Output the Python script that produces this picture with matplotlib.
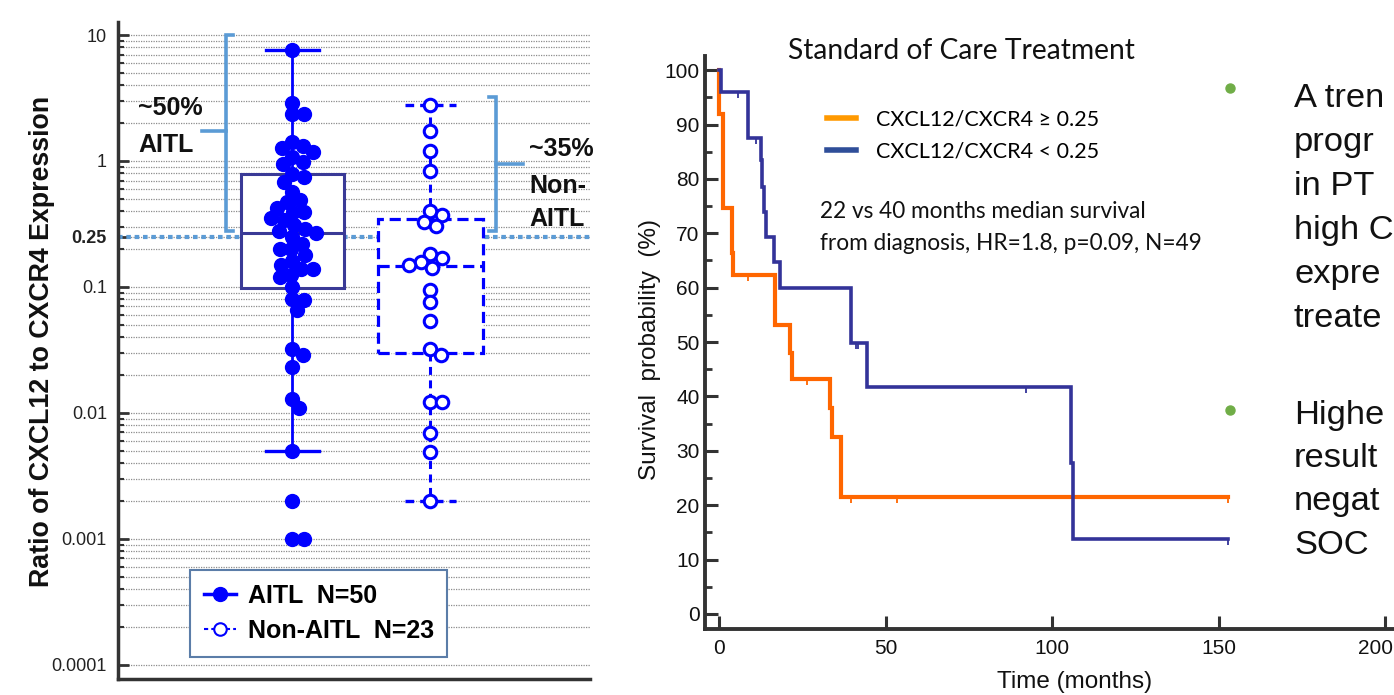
import numpy as np
import matplotlib
matplotlib.use("Agg")
import matplotlib.pyplot as plt
from matplotlib.lines import Line2D
from matplotlib.path import Path
from matplotlib.ticker import FixedLocator, NullFormatter

# ------------------------------------------------------------------ data
# Left panel: CXCL12/CXCR4 ratio per patient
aitl_values = [7.6, 2.9, 2.35, 2.35, 1.42, 1.32, 1.27, 1.18, 1.08, 0.98,
               0.95, 0.79, 0.75, 0.68, 0.57, 0.49, 0.47, 0.42, 0.39, 0.39,
               0.35, 0.34, 0.31, 0.29, 0.28, 0.27, 0.25, 0.22, 0.20, 0.20,
               0.18, 0.16, 0.15, 0.14, 0.14, 0.125, 0.12, 0.10, 0.080, 0.079,
               0.066, 0.032, 0.029, 0.023, 0.013, 0.011, 0.005, 0.002, 0.001, 0.001]
nonaitl_values = [2.78, 1.73, 1.2, 0.83, 0.40, 0.37, 0.33, 0.305, 0.183, 0.17,
                  0.158, 0.15, 0.142, 0.095, 0.076, 0.054, 0.032, 0.029, 0.0122,
                  0.0122, 0.0069, 0.0049, 0.002]
aitl_box = dict(whislo=0.005, q1=0.098, med=0.268, q3=0.789, whishi=7.6)
nonaitl_box = dict(whislo=0.002, q1=0.030, med=0.147, q3=0.347, whishi=2.78)
threshold = 0.25
ytick_values = [10, 1, 0.25, 0.1, 0.01, 0.001, 0.0001]
ytick_labels = ["10", "1", "0.25", "0.1", "0.01", "0.001", "0.0001"]
legend_labels = ["AITL  N=50", "Non-AITL  N=23"]
aitl_bracket = [0.28, 10.0]        # range covered by "~50% AITL"
nonaitl_bracket = [0.28, 3.2]      # range covered by "~35% Non-AITL"

# Right panel: Kaplan-Meier curves
high_times = [0, 0.05, 1.1, 3.8, 4.1, 16.9, 21.4, 21.9, 33.4, 33.9, 36.6, 153]
high_surv = [100, 92.0, 74.6, 66.4, 62.4, 53.1, 48.0, 43.3, 37.9, 32.6, 21.6, 21.6]
high_censor = [8.8, 26.5, 39.5, 53.5, 153]
low_times = [0, 0.5, 8.8, 12.6, 13.0, 13.5, 14.1, 16.6, 18.4, 39.5, 44.3, 105.7, 106.2, 153]
low_surv = [100, 96.0, 87.6, 83.5, 78.5, 74.0, 69.4, 64.8, 59.9, 49.8, 41.7, 27.8, 13.8, 13.8]
low_censor = [5.6, 11.0, 41.0, 41.6, 92.2, 153]
km_labels = ["CXCL12/CXCR4 \u2265 0.25", "CXCL12/CXCR4 < 0.25"]
x_ticks = [0, 50, 100, 150, 200]
x_tick_labels = ["0", "50", "100", "150", "200"]
y_ticks = list(range(0, 101, 10))

# Slide bullets (cut off at the slide edge in the source)
bullet_lines = ["A tren", "progr", "in PT", "high C", "expre", "treate",
                "Highe", "result", "negat", "SOC"]

# ------------------------------------------------------------------ style
W, H, DPI = 1394, 695, 100
BLUE = "#0000ff"
BOXEDGE = "#3a3a96"
LIGHTBLUE = "#5b9bd5"
SPINE = "#333333"
ORANGE = "#ff6600"
ORANGE_LEG = "#ff9900"
NAVY = "#333399"
NAVY_LEG = "#2f4e99"
SANS = ["Liberation Sans", "DejaVu Sans"]
HUM = ["Lato", "DejaVu Sans"]

plt.rcParams["font.family"] = SANS
fig = plt.figure(figsize=(W / DPI, H / DPI), dpi=DPI)
fig.patch.set_facecolor("white")


def fx(px):
    return px / W


def fy(py):
    return 1 - py / H


# ================================================================ left panel
axL = fig.add_axes([fx(118), fy(679), fx(590) - fx(118), fy(22) - fy(679)])
axL.set_yscale("log")
axL.set_ylim(7.7e-5, 12.7)
axL.set_xlim(-0.2645, 3.156)
axL.set_axisbelow(True)

minor = [s * 10.0 ** e for e in range(-4, 1) for s in range(2, 10)]
axL.yaxis.set_major_locator(FixedLocator(ytick_values))
axL.set_yticklabels(ytick_labels)
axL.yaxis.set_minor_locator(FixedLocator(minor))
axL.yaxis.set_minor_formatter(NullFormatter())
for lab in axL.get_yticklabels():
    lab.set_fontsize(13)
    lab.set_color("#222222")
    if lab.get_text() == "0.25":
        lab.set_fontweight("bold")
axL.tick_params(axis="y", which="major", direction="in", length=8, width=2,
                color=SPINE, pad=8)
axL.tick_params(axis="y", which="minor", direction="in", length=4, width=1.5,
                color=SPINE)
axL.tick_params(axis="x", bottom=False, labelbottom=False)
axL.grid(True, which="both", axis="y", color="#8c8c8c", lw=0.9,
         ls=(0, (1, 1)))
for s in ("top", "right"):
    axL.spines[s].set_visible(False)
for s in ("left", "bottom"):
    axL.spines[s].set_color(SPINE)
    axL.spines[s].set_linewidth(2.5)

# threshold line
axL.axhline(threshold, color=LIGHTBLUE, lw=3, ls=(0, (1.1, 0.9)), zorder=1.5)

# boxes
axL.bxp([dict(aitl_box, fliers=[])], positions=[1], widths=0.746,
        patch_artist=True, showfliers=False, capwidths=0.38,
        boxprops=dict(facecolor="white", edgecolor=BOXEDGE, lw=2.2, zorder=2),
        medianprops=dict(color=BOXEDGE, lw=2.2, zorder=2.1),
        whiskerprops=dict(color=BLUE, lw=2.0, zorder=2.2),
        capprops=dict(color=BLUE, lw=2.4, zorder=2.2))
axL.bxp([dict(nonaitl_box, fliers=[])], positions=[2], widths=0.76,
        patch_artist=True, showfliers=False, capwidths=0.37,
        boxprops=dict(facecolor="white", edgecolor=BLUE, lw=2.3,
                      ls=(0, (3.5, 1.8)), zorder=2),
        medianprops=dict(color=BLUE, lw=2.3, ls=(0, (3.5, 1.8)), zorder=2.1),
        whiskerprops=dict(color=BLUE, lw=2.2, ls=(0, (2.6, 1.8)), zorder=2.2),
        capprops=dict(color=BLUE, lw=2.4, ls=(0, (2.6, 1.8)), zorder=2.2))

fig.canvas.draw()
pix_per_unit = axL.transData.transform((2, 1))[0] - axL.transData.transform((1, 1))[0]


def swarm(values, d):
    ypix = axL.transData.transform(np.column_stack([np.ones(len(values)), values]))[:, 1]
    order = np.argsort(-ypix)
    placed = []
    offs = np.zeros(len(values))
    cands = [0.0]
    for k in np.arange(0.5, 60, 0.5):
        cands += [k, -k]
    for i in order:
        y = ypix[i]
        for c in cands:
            if all((c - px) ** 2 + (y - py) ** 2 >= d * d for px, py in placed):
                break
        offs[i] = c
        placed.append((c, y))
    return offs / pix_per_unit


xa = 1 + swarm(aitl_values, 11.5)
xn = 2 + swarm(nonaitl_values, 12.0)
axL.plot(xa, aitl_values, ls="none", marker="o", ms=10, mfc=BLUE, mec=BLUE,
         zorder=4)
axL.plot(xn, nonaitl_values, ls="none", marker="o", ms=9, mfc="white",
         mec=BLUE, mew=2.2, zorder=4)


# brackets
def bracket(x, ylo, yhi, hook, stem_x, stem_y):
    axL.plot([x + hook, x, x, x + hook], [ylo, ylo, yhi, yhi], color=LIGHTBLUE,
             lw=2.6, solid_joinstyle="miter", zorder=1.6)
    axL.plot([x, stem_x], [stem_y, stem_y], color=LIGHTBLUE, lw=2.6, zorder=1.6)


bracket(0.518, aitl_bracket[0], aitl_bracket[1], 0.05, 0.344, 1.73)
bracket(2.475, nonaitl_bracket[0], nonaitl_bracket[1], -0.05, 2.67, 0.95)

tk = dict(fontsize=18, fontweight="bold", ha="left", va="center", color="#111111")
fig.text(fx(138), fy(108), "~50%", **tk)
fig.text(fx(138), fy(145), "AITL", **tk)
fig.text(fx(529), fy(149), "~35%", **tk)
fig.text(fx(529), fy(186), "Non-", **tk)
fig.text(fx(529), fy(219), "AITL", **tk)

# y label
fig.text(fx(42), fy(341), "Ratio of CXCL12 to CXCR4 Expression", rotation=90,
         ha="center", va="center", fontsize=19.3, fontweight="bold",
         color="#111111")

# legend
h1 = Line2D([], [], color=BLUE, lw=2.5, marker="o", ms=10, mfc=BLUE, mec=BLUE)
h2 = Line2D([], [], color=BLUE, lw=1.5, ls=(0, (2, 1.5)), marker="o", ms=9,
            mfc="white", mec=BLUE, mew=1.5)
legL = axL.legend([h1, h2], legend_labels, loc="upper left",
                  bbox_to_anchor=(fx(190), fy(570)),
                  bbox_transform=fig.transFigure, borderaxespad=0,
                  prop=dict(family=SANS, weight="bold", size=18),
                  frameon=True, fancybox=False, framealpha=1,
                  edgecolor="#5b7da8", handlelength=1.3, handletextpad=0.45,
                  labelspacing=0.45, borderpad=0.55)
legL.get_frame().set_linewidth(1.5)
legL.set_zorder(5)

# ================================================================ right panel
x0_px, ppm = 719.0, 3.33
ax2 = fig.add_axes([fx(705), fy(629), fx(1450) - fx(705), fy(56) - fy(629)])
ax2.set_xlim(-(x0_px - 705) / ppm, (1450 - x0_px) / ppm)
ax2.set_ylim(-2.76, 102.6)
ax2.set_xticks(x_ticks)
# the last label sits at the slide edge; it is drawn separately, pulled inside
ax2.set_xticklabels(x_tick_labels[:-1] + [""])
ax2.set_yticks(y_ticks)
ax2.set_yticks([v + 5 for v in y_ticks[:-1]], minor=True)
ax2.tick_params(axis="both", which="major", direction="in", length=9.5,
                width=2.2, color=SPINE, labelsize=15, labelcolor="#111111")
ax2.tick_params(axis="y", which="major", pad=4)
ax2.tick_params(axis="x", which="major", pad=7)
ax2.tick_params(axis="y", which="minor", direction="in", length=5, width=2,
                color=SPINE)
for s in ("top", "right"):
    ax2.spines[s].set_visible(False)
for s in ("left", "bottom"):
    ax2.spines[s].set_color(SPINE)
    ax2.spines[s].set_linewidth(2.8)

fig.text(fx(1393), fy(648), x_tick_labels[-1], ha="right", va="center",
         fontsize=15, color="#111111")

ax2.step(high_times, high_surv, where="post", color=ORANGE, lw=3.0,
         solid_joinstyle="miter", zorder=3)
ax2.step(low_times, low_surv, where="post", color=NAVY, lw=2.6,
         solid_joinstyle="miter", zorder=3)

tick_down = Path([(0, 0), (0, -1)], [Path.MOVETO, Path.LINETO])


def surv_at(times, surv, t):
    idx = np.searchsorted(times, t, side="right") - 1
    return np.asarray(surv)[idx]


ax2.plot(high_censor, surv_at(high_times, high_surv, high_censor), ls="none",
         marker=tick_down, ms=9, mew=1.3, color=ORANGE, zorder=3)
ax2.plot(low_censor, surv_at(low_times, low_surv, low_censor), ls="none",
         marker=tick_down, ms=9, mew=1.3, color=NAVY, zorder=3)

legR = ax2.legend([Line2D([], [], color=ORANGE_LEG, lw=4),
                   Line2D([], [], color=NAVY_LEG, lw=4)], km_labels,
                  loc="upper left", bbox_to_anchor=(fx(818), fy(101)),
                  bbox_transform=fig.transFigure, borderaxespad=0,
                  frameon=False, prop=dict(family=HUM, size=15.5),
                  handlelength=1.35, handletextpad=0.95, labelspacing=0.55)

fig.text(fx(961), fy(51), "Standard of Care Treatment", ha="center",
         va="center", fontsize=20.3, family=HUM, color="#111111")
fig.text(fx(820), fy(212), "22 vs 40 months median survival", ha="left",
         va="center", fontsize=16.3, family=HUM, color="#111111")
fig.text(fx(820), fy(243), "from diagnosis, HR=1.8, p=0.09, N=49", ha="left",
         va="center", fontsize=16.3, family=HUM, color="#111111")
fig.text(fx(650), fy(350), "Survival  probability  (%)", rotation=90,
         ha="center", va="center", fontsize=17.5, color="#111111")
fig.text(fx(1075), fy(682), "Time (months)", ha="center", va="center",
         fontsize=17.5, color="#111111")

# ================================================================ bullets
GREEN = "#70ad47"
for yb in (88, 410):
    fig.add_artist(Line2D([fx(1230)], [fy(yb)], transform=fig.transFigure,
                          ls="none", marker="o", ms=6.5, mfc=GREEN, mec=GREEN))
bullet_base = [107, 151, 195, 239, 283, 327, 424, 467, 510, 554]
for txt, yb in zip(bullet_lines, bullet_base):
    fig.text(fx(1294), fy(yb), txt, fontsize=24.8, ha="left", va="baseline",
             color="#111111")

fig.savefig("out.png", dpi=DPI, facecolor="white")
